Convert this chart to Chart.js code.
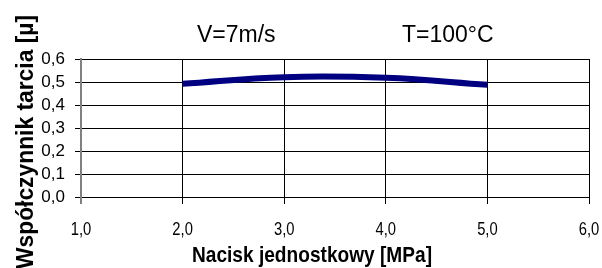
<!DOCTYPE html>
<html>
<head>
<meta charset="utf-8">
<script src="https://cdn.jsdelivr.net/npm/chart.js@4.4.1/dist/chart.umd.min.js"></script>
<style>
  body { margin: 0; background: #fff; }
  #wrap { width: 602px; height: 268px; position: relative; }
</style>
</head>
<body>
<div id="wrap"><canvas id="c"></canvas></div>
<script>
// data
var pressure = [2.0, 3.0, 4.0, 5.0];
var friction = [0.492, 0.521, 0.518, 0.488];
var xTicks = [1, 2, 3, 4, 5, 6];
var yTicks = [0, 0.1, 0.2, 0.3, 0.4, 0.5, 0.6];
var notes = ['V=7m/s', 'T=100°C'];
var xTitle = 'Nacisk jednostkowy [MPa]';
var yTitle = 'Współczynnik tarcia [µ]';

var FONT = '"Liberation Sans", Arial, sans-serif';

const fmt = (v) => v.toFixed(1).replace('.', ',');

// draw text squeezed along its own direction so it covers a given length
const squeezed = (ctx, text, x, y, scaleX, align) => {
    ctx.save();
    ctx.translate(x, y);
    ctx.scale(scaleX, 1);
    ctx.textAlign = align;
    ctx.fillText(text, 0, 0);
    ctx.restore();
};

const textPlugin = {
    id: 'texts',
    afterDraw(chart) {
        const ctx = chart.ctx;
        const xs = chart.scales.x;
        ctx.save();
        ctx.fillStyle = '#000';
        ctx.textBaseline = 'alphabetic';

        // annotations inside the plot
        ctx.font = '23px ' + FONT;
        ctx.textAlign = 'left';
        ctx.fillText(notes[0], 197, 42);
        ctx.fillText(notes[1], 402, 42);

        // x tick labels (narrow face)
        ctx.font = '18px ' + FONT;
        xs.ticks.forEach((t, i) => {
            squeezed(ctx, fmt(t.value), xs.getPixelForTick(i), 235, 0.82, 'center');
        });

        // x title
        ctx.font = 'bold 22px ' + FONT;
        let w = ctx.measureText(xTitle).width;
        squeezed(ctx, xTitle, 312, 262, 240 / w, 'center');

        // y title, rotated
        ctx.font = 'bold 24px ' + FONT;
        w = ctx.measureText(yTitle).width;
        ctx.save();
        ctx.translate(33, 15);
        ctx.rotate(-Math.PI / 2);
        squeezed(ctx, yTitle, 0, 0, 254 / w, 'right');
        ctx.restore();

        ctx.restore();
    }
};

new Chart(document.getElementById('c'), {
    type: 'line',
    data: {
        datasets: [{
            data: pressure.map((x, i) => ({ x: x, y: friction[i] })),
            borderColor: '#000080',
            borderWidth: 6,
            borderCapStyle: 'butt',
            pointRadius: 0,
            tension: 0.4,
            fill: false
        }]
    },
    options: {
        responsive: true,
        maintainAspectRatio: false,
        animation: false,
        layout: { padding: { top: 59, right: 13, left: 0, bottom: 0 } },
        plugins: {
            legend: { display: false },
            tooltip: { enabled: false }
        },
        scales: {
            x: {
                type: 'linear',
                min: xTicks[0],
                max: xTicks[xTicks.length - 1],
                afterBuildTicks: (s) => { s.ticks = xTicks.map(v => ({ value: v })); },
                afterFit: (s) => { s.height = 71; },
                ticks: { display: false },
                grid: {
                    color: (c) => c.index === 0 ? '#808080' : '#000',
                    lineWidth: (c) => c.index === 0 ? 2 : 1,
                    tickLength: 7
                },
                border: { color: '#000', width: 1 }
            },
            y: {
                min: yTicks[0],
                max: yTicks[yTicks.length - 1],
                afterBuildTicks: (s) => { s.ticks = yTicks.map(v => ({ value: v })); },
                afterFit: (s) => { s.width = 81; },
                ticks: {
                    color: '#000',
                    padding: 10,
                    autoSkip: false,
                    font: { family: FONT, size: 17 },
                    callback: (v) => fmt(v)
                },
                grid: { color: '#000', lineWidth: 1, tickLength: 6 },
                border: { color: '#808080', width: 2 }
            }
        }
    },
    plugins: [textPlugin]
});
</script>
</body>
</html>
